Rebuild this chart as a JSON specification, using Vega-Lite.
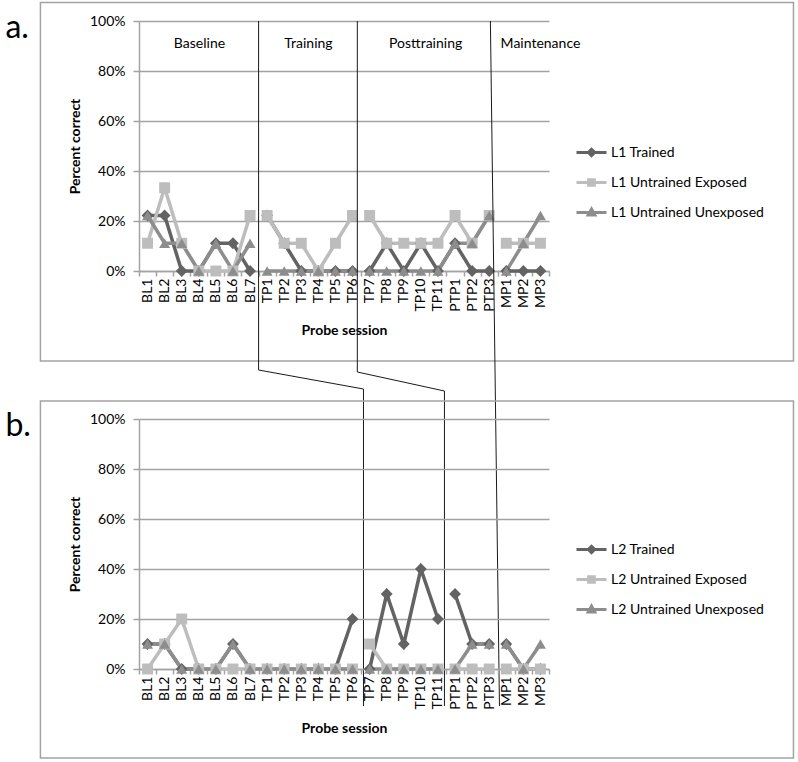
{
  "$schema": "https://vega.github.io/schema/vega-lite/v6.json",
  "background": "white",
  "padding": {"left": 5, "top": 1, "right": 3, "bottom": 3},
  "bounds": "flush",
  "spacing": 148,
  "resolve": {"scale": {"color": "independent", "shape": "independent"}},
  "config": {
    "font": "Lato",
    "view": {"stroke": null},
    "axis": {"labelFont": "Lato", "labelFontSize": 14, "labelColor": "#000", "titleFont": "Lato", "titleFontSize": 14, "titleFontWeight": "bold", "titleColor": "#000", "domainColor": "#a3a3a3", "tickColor": "#a3a3a3", "gridColor": "#a3a3a3", "domainWidth": 1.5, "tickWidth": 1.5, "gridWidth": 1.5},
    "legend": {"labelFont": "Lato", "labelFontSize": 14, "labelColor": "#000"},
    "text": {"font": "Lato"}
  },
  "vconcat": [
    {
      "width": 410,
      "height": 250,
      "resolve": {"scale": {"x": "independent", "y": "independent"}},
      "layer": [
        {
          "data": {"values": [{"u1": -5.77, "u2": 38.31, "v1": 1.074, "v2": -0.36}]},
          "mark": {"type": "rect", "filled": false, "stroke": "#a3a3a3", "strokeWidth": 1.5, "clip": false},
          "encoding": {
            "x": {"field": "u1", "type": "quantitative", "scale": {"domain": [0, 24], "nice": false, "zero": false}, "axis": null},
            "x2": {"field": "u2"},
            "y": {"field": "v1", "type": "quantitative", "scale": {"domain": [0, 1], "nice": false, "zero": false}, "axis": null},
            "y2": {"field": "v2"}
          }
        },
        {
          "data": {"values": [
            {"s":"BL1","g":"L1 Trained","p":"Baseline","v":0.222},
            {"s":"BL2","g":"L1 Trained","p":"Baseline","v":0.222},
            {"s":"BL3","g":"L1 Trained","p":"Baseline","v":0},
            {"s":"BL4","g":"L1 Trained","p":"Baseline","v":0},
            {"s":"BL5","g":"L1 Trained","p":"Baseline","v":0.111},
            {"s":"BL6","g":"L1 Trained","p":"Baseline","v":0.111},
            {"s":"BL7","g":"L1 Trained","p":"Baseline","v":0},
            {"s":"TP1","g":"L1 Trained","p":"Training","v":0.222},
            {"s":"TP2","g":"L1 Trained","p":"Training","v":0.111},
            {"s":"TP3","g":"L1 Trained","p":"Training","v":0},
            {"s":"TP4","g":"L1 Trained","p":"Training","v":0},
            {"s":"TP5","g":"L1 Trained","p":"Training","v":0},
            {"s":"TP6","g":"L1 Trained","p":"Training","v":0},
            {"s":"TP7","g":"L1 Trained","p":"Posttraining","v":0},
            {"s":"TP8","g":"L1 Trained","p":"Posttraining","v":0.111},
            {"s":"TP9","g":"L1 Trained","p":"Posttraining","v":0},
            {"s":"TP10","g":"L1 Trained","p":"Posttraining","v":0.111},
            {"s":"TP11","g":"L1 Trained","p":"Posttraining","v":0},
            {"s":"PTP1","g":"L1 Trained","p":"Posttraining","v":0.111},
            {"s":"PTP2","g":"L1 Trained","p":"Posttraining","v":0},
            {"s":"PTP3","g":"L1 Trained","p":"Posttraining","v":0},
            {"s":"MP1","g":"L1 Trained","p":"Maintenance","v":0},
            {"s":"MP2","g":"L1 Trained","p":"Maintenance","v":0},
            {"s":"MP3","g":"L1 Trained","p":"Maintenance","v":0},
            {"s":"BL1","g":"L1 Untrained Exposed","p":"Baseline","v":0.111},
            {"s":"BL2","g":"L1 Untrained Exposed","p":"Baseline","v":0.333},
            {"s":"BL3","g":"L1 Untrained Exposed","p":"Baseline","v":0.111},
            {"s":"BL4","g":"L1 Untrained Exposed","p":"Baseline","v":0},
            {"s":"BL5","g":"L1 Untrained Exposed","p":"Baseline","v":0},
            {"s":"BL6","g":"L1 Untrained Exposed","p":"Baseline","v":0},
            {"s":"BL7","g":"L1 Untrained Exposed","p":"Baseline","v":0.222},
            {"s":"TP1","g":"L1 Untrained Exposed","p":"Training","v":0.222},
            {"s":"TP2","g":"L1 Untrained Exposed","p":"Training","v":0.111},
            {"s":"TP3","g":"L1 Untrained Exposed","p":"Training","v":0.111},
            {"s":"TP4","g":"L1 Untrained Exposed","p":"Training","v":0},
            {"s":"TP5","g":"L1 Untrained Exposed","p":"Training","v":0.111},
            {"s":"TP6","g":"L1 Untrained Exposed","p":"Training","v":0.222},
            {"s":"TP7","g":"L1 Untrained Exposed","p":"Posttraining","v":0.222},
            {"s":"TP8","g":"L1 Untrained Exposed","p":"Posttraining","v":0.111},
            {"s":"TP9","g":"L1 Untrained Exposed","p":"Posttraining","v":0.111},
            {"s":"TP10","g":"L1 Untrained Exposed","p":"Posttraining","v":0.111},
            {"s":"TP11","g":"L1 Untrained Exposed","p":"Posttraining","v":0.111},
            {"s":"PTP1","g":"L1 Untrained Exposed","p":"Posttraining","v":0.222},
            {"s":"PTP2","g":"L1 Untrained Exposed","p":"Posttraining","v":0.111},
            {"s":"PTP3","g":"L1 Untrained Exposed","p":"Posttraining","v":0.222},
            {"s":"MP1","g":"L1 Untrained Exposed","p":"Maintenance","v":0.111},
            {"s":"MP2","g":"L1 Untrained Exposed","p":"Maintenance","v":0.111},
            {"s":"MP3","g":"L1 Untrained Exposed","p":"Maintenance","v":0.111},
            {"s":"BL1","g":"L1 Untrained Unexposed","p":"Baseline","v":0.222},
            {"s":"BL2","g":"L1 Untrained Unexposed","p":"Baseline","v":0.111},
            {"s":"BL3","g":"L1 Untrained Unexposed","p":"Baseline","v":0.111},
            {"s":"BL4","g":"L1 Untrained Unexposed","p":"Baseline","v":0},
            {"s":"BL5","g":"L1 Untrained Unexposed","p":"Baseline","v":0.111},
            {"s":"BL6","g":"L1 Untrained Unexposed","p":"Baseline","v":0},
            {"s":"BL7","g":"L1 Untrained Unexposed","p":"Baseline","v":0.111},
            {"s":"TP1","g":"L1 Untrained Unexposed","p":"Training","v":0},
            {"s":"TP2","g":"L1 Untrained Unexposed","p":"Training","v":0},
            {"s":"TP3","g":"L1 Untrained Unexposed","p":"Training","v":0},
            {"s":"TP4","g":"L1 Untrained Unexposed","p":"Training","v":0},
            {"s":"TP5","g":"L1 Untrained Unexposed","p":"Training","v":0},
            {"s":"TP6","g":"L1 Untrained Unexposed","p":"Training","v":0},
            {"s":"TP7","g":"L1 Untrained Unexposed","p":"Posttraining","v":0},
            {"s":"TP8","g":"L1 Untrained Unexposed","p":"Posttraining","v":0},
            {"s":"TP9","g":"L1 Untrained Unexposed","p":"Posttraining","v":0},
            {"s":"TP10","g":"L1 Untrained Unexposed","p":"Posttraining","v":0},
            {"s":"TP11","g":"L1 Untrained Unexposed","p":"Posttraining","v":0},
            {"s":"PTP1","g":"L1 Untrained Unexposed","p":"Posttraining","v":0.111},
            {"s":"PTP2","g":"L1 Untrained Unexposed","p":"Posttraining","v":0.111},
            {"s":"PTP3","g":"L1 Untrained Unexposed","p":"Posttraining","v":0.222},
            {"s":"MP1","g":"L1 Untrained Unexposed","p":"Maintenance","v":0},
            {"s":"MP2","g":"L1 Untrained Unexposed","p":"Maintenance","v":0.111},
            {"s":"MP3","g":"L1 Untrained Unexposed","p":"Maintenance","v":0.222}
          ]},
          "encoding": {
            "x": {"field": "s", "type": "nominal",
              "scale": {"type": "band", "domain": ["BL1","BL2","BL3","BL4","BL5","BL6","BL7","TP1","TP2","TP3","TP4","TP5","TP6","TP7","TP8","TP9","TP10","TP11","PTP1","PTP2","PTP3","MP1","MP2","MP3"], "paddingInner": 0, "paddingOuter": 0},
              "axis": {"title": "Probe session", "labelAngle": -90, "tickBand": "extent", "tickSize": 5, "labelPadding": 2, "titlePadding": 12, "grid": false}},
            "y": {"field": "v", "type": "quantitative", "scale": {"domain": [0, 1], "nice": false},
              "axis": {"title": "Percent correct", "format": ".0%", "values": [0, 0.2, 0.4, 0.6, 0.8, 1], "grid": true, "tickSize": 6, "labelPadding": 8, "titlePadding": 7}},
            "color": {"field": "g", "type": "nominal",
              "scale": {"domain": ["L1 Trained", "L1 Untrained Exposed", "L1 Untrained Unexposed"], "range": ["#636363", "#bdbdbd", "#8d8d8d"]},
              "legend": {"title": null, "orient": "none", "legendX": 436, "legendY": 115, "rowPadding": 4, "symbolSize": 900, "symbolStrokeWidth": 3, "labelOffset": 3}}
          },
          "layer": [
            {"mark": {"type": "line", "strokeWidth": 3.5}, "encoding": {"detail": {"field": "p"}}},
            {"transform": [{"filter": "datum.g == 'L1 Trained'"}], "mark": {"type": "point", "shape": "diamond", "filled": true, "opacity": 1, "size": 140}},
            {"transform": [{"filter": "datum.g == 'L1 Untrained Exposed'"}], "mark": {"type": "point", "shape": "square", "filled": true, "opacity": 1, "size": 120}},
            {"transform": [{"filter": "datum.g == 'L1 Untrained Unexposed'"}], "mark": {"type": "point", "shape": "triangle-up", "filled": true, "opacity": 1, "size": 120}},
            {
              "data": {"values": [
                {"s": "BL1", "g": "L1 Trained", "v": -1},
                {"s": "BL1", "g": "L1 Untrained Exposed", "v": -1},
                {"s": "BL1", "g": "L1 Untrained Unexposed", "v": -1}
              ]},
              "mark": {"type": "point", "filled": false, "strokeWidth": 3, "opacity": 1, "clip": true},
              "encoding": {
                "shape": {"field": "g", "type": "nominal",
                  "scale": {"domain": ["L1 Trained", "L1 Untrained Exposed", "L1 Untrained Unexposed"],
                    "range": ["M-1,0H1M0,-0.21L0.21,0L0,0.21L-0.21,0ZM0,-0.08L0.08,0L0,0.08L-0.08,0Z", "M-1,0H1M-0.19,-0.19H0.19V0.19H-0.19ZM-0.08,-0.08H0.08V0.08H-0.08Z", "M-1,0H1M0,-0.23L0.22,0.17L-0.22,0.17ZM0,-0.07L0.07,0.05L-0.07,0.05Z"]},
                  "legend": {"title": null, "orient": "none", "legendX": 436, "legendY": 115, "rowPadding": 4, "symbolSize": 900, "symbolStrokeWidth": 3, "labelOffset": 3}}
              }
            }
          ]
        },
        {
          "data": {"values": [
            {"t": "Baseline", "u": 3.54, "v": 0.908},
            {"t": "Training", "u": 9.92, "v": 0.908},
            {"t": "Posttraining", "u": 16.78, "v": 0.908},
            {"t": "Maintenance", "u": 23.5, "v": 0.908}
          ]},
          "mark": {"type": "text", "fontSize": 14, "color": "#000", "align": "center", "baseline": "middle", "clip": false},
          "encoding": {
            "x": {"field": "u", "type": "quantitative", "scale": {"domain": [0, 24], "nice": false, "zero": false}, "axis": null},
            "y": {"field": "v", "type": "quantitative", "scale": {"domain": [0, 1], "nice": false, "zero": false}, "axis": null},
            "text": {"field": "t"}
          }
        },
        {
          "data": {"values": [{"t": "a.", "u": -7.82, "v": 0.932}]},
          "mark": {"type": "text", "fontSize": 32, "color": "#000", "align": "left", "baseline": "alphabetic", "clip": false},
          "encoding": {
            "x": {"field": "u", "type": "quantitative", "scale": {"domain": [0, 24], "nice": false, "zero": false}, "axis": null},
            "y": {"field": "v", "type": "quantitative", "scale": {"domain": [0, 1], "nice": false, "zero": false}, "axis": null},
            "text": {"field": "t"}
          }
        },
        {
          "data": {"values": [
            {"id": 1, "k": 0, "u": 7.0, "v": 1.0},
            {"id": 1, "k": 1, "u": 7.0, "v": -0.396},
            {"id": 1, "k": 2, "u": 13.14, "v": -0.472},
            {"id": 1, "k": 3, "u": 13.14, "v": -1.74},
            {"id": 2, "k": 0, "u": 12.78, "v": 1.0},
            {"id": 2, "k": 1, "u": 12.78, "v": -0.404},
            {"id": 2, "k": 2, "u": 17.88, "v": -0.48},
            {"id": 2, "k": 3, "u": 17.88, "v": -1.74},
            {"id": 3, "k": 0, "u": 20.57, "v": 1.0},
            {"id": 3, "k": 1, "u": 21.1, "v": -1.74}
          ]},
          "mark": {"type": "line", "color": "#1a1a1a", "strokeWidth": 1, "clip": false},
          "encoding": {
            "x": {"field": "u", "type": "quantitative", "scale": {"domain": [0, 24], "nice": false, "zero": false}, "axis": null},
            "y": {"field": "v", "type": "quantitative", "scale": {"domain": [0, 1], "nice": false, "zero": false}, "axis": null},
            "detail": {"field": "id"},
            "order": {"field": "k"}
          }
        }
      ]
    },
    {
      "width": 410,
      "height": 250,
      "resolve": {"scale": {"x": "independent", "y": "independent"}},
      "layer": [
        {
          "data": {"values": [{"u1": -5.77, "u2": 38.31, "v1": 1.072, "v2": -0.356}]},
          "mark": {"type": "rect", "filled": false, "stroke": "#a3a3a3", "strokeWidth": 1.5, "clip": false},
          "encoding": {
            "x": {"field": "u1", "type": "quantitative", "scale": {"domain": [0, 24], "nice": false, "zero": false}, "axis": null},
            "x2": {"field": "u2"},
            "y": {"field": "v1", "type": "quantitative", "scale": {"domain": [0, 1], "nice": false, "zero": false}, "axis": null},
            "y2": {"field": "v2"}
          }
        },
        {
          "data": {"values": [
            {"s":"BL1","g":"L2 Trained","p":"Baseline","v":0.1},
            {"s":"BL2","g":"L2 Trained","p":"Baseline","v":0.1},
            {"s":"BL3","g":"L2 Trained","p":"Baseline","v":0},
            {"s":"BL4","g":"L2 Trained","p":"Baseline","v":0},
            {"s":"BL5","g":"L2 Trained","p":"Baseline","v":0},
            {"s":"BL6","g":"L2 Trained","p":"Baseline","v":0.1},
            {"s":"BL7","g":"L2 Trained","p":"Baseline","v":0},
            {"s":"TP1","g":"L2 Trained","p":"Baseline","v":0},
            {"s":"TP2","g":"L2 Trained","p":"Baseline","v":0},
            {"s":"TP3","g":"L2 Trained","p":"Baseline","v":0},
            {"s":"TP4","g":"L2 Trained","p":"Baseline","v":0},
            {"s":"TP5","g":"L2 Trained","p":"Baseline","v":0},
            {"s":"TP6","g":"L2 Trained","p":"Baseline","v":0.2},
            {"s":"TP7","g":"L2 Trained","p":"Training","v":0},
            {"s":"TP8","g":"L2 Trained","p":"Training","v":0.3},
            {"s":"TP9","g":"L2 Trained","p":"Training","v":0.1},
            {"s":"TP10","g":"L2 Trained","p":"Training","v":0.4},
            {"s":"TP11","g":"L2 Trained","p":"Training","v":0.2},
            {"s":"PTP1","g":"L2 Trained","p":"Posttraining","v":0.3},
            {"s":"PTP2","g":"L2 Trained","p":"Posttraining","v":0.1},
            {"s":"PTP3","g":"L2 Trained","p":"Posttraining","v":0.1},
            {"s":"MP1","g":"L2 Trained","p":"Maintenance","v":0.1},
            {"s":"MP2","g":"L2 Trained","p":"Maintenance","v":0},
            {"s":"MP3","g":"L2 Trained","p":"Maintenance","v":0},
            {"s":"BL1","g":"L2 Untrained Exposed","p":"Baseline","v":0},
            {"s":"BL2","g":"L2 Untrained Exposed","p":"Baseline","v":0.1},
            {"s":"BL3","g":"L2 Untrained Exposed","p":"Baseline","v":0.2},
            {"s":"BL4","g":"L2 Untrained Exposed","p":"Baseline","v":0},
            {"s":"BL5","g":"L2 Untrained Exposed","p":"Baseline","v":0},
            {"s":"BL6","g":"L2 Untrained Exposed","p":"Baseline","v":0},
            {"s":"BL7","g":"L2 Untrained Exposed","p":"Baseline","v":0},
            {"s":"TP1","g":"L2 Untrained Exposed","p":"Baseline","v":0},
            {"s":"TP2","g":"L2 Untrained Exposed","p":"Baseline","v":0},
            {"s":"TP3","g":"L2 Untrained Exposed","p":"Baseline","v":0},
            {"s":"TP4","g":"L2 Untrained Exposed","p":"Baseline","v":0},
            {"s":"TP5","g":"L2 Untrained Exposed","p":"Baseline","v":0},
            {"s":"TP6","g":"L2 Untrained Exposed","p":"Baseline","v":0},
            {"s":"TP7","g":"L2 Untrained Exposed","p":"Training","v":0.1},
            {"s":"TP8","g":"L2 Untrained Exposed","p":"Training","v":0},
            {"s":"TP9","g":"L2 Untrained Exposed","p":"Training","v":0},
            {"s":"TP10","g":"L2 Untrained Exposed","p":"Training","v":0},
            {"s":"TP11","g":"L2 Untrained Exposed","p":"Training","v":0},
            {"s":"PTP1","g":"L2 Untrained Exposed","p":"Posttraining","v":0},
            {"s":"PTP2","g":"L2 Untrained Exposed","p":"Posttraining","v":0},
            {"s":"PTP3","g":"L2 Untrained Exposed","p":"Posttraining","v":0},
            {"s":"MP1","g":"L2 Untrained Exposed","p":"Maintenance","v":0},
            {"s":"MP2","g":"L2 Untrained Exposed","p":"Maintenance","v":0},
            {"s":"MP3","g":"L2 Untrained Exposed","p":"Maintenance","v":0},
            {"s":"BL1","g":"L2 Untrained Unexposed","p":"Baseline","v":0.1},
            {"s":"BL2","g":"L2 Untrained Unexposed","p":"Baseline","v":0.1},
            {"s":"BL3","g":"L2 Untrained Unexposed","p":"Baseline","v":0},
            {"s":"BL4","g":"L2 Untrained Unexposed","p":"Baseline","v":0},
            {"s":"BL5","g":"L2 Untrained Unexposed","p":"Baseline","v":0},
            {"s":"BL6","g":"L2 Untrained Unexposed","p":"Baseline","v":0.1},
            {"s":"BL7","g":"L2 Untrained Unexposed","p":"Baseline","v":0},
            {"s":"TP1","g":"L2 Untrained Unexposed","p":"Baseline","v":0},
            {"s":"TP2","g":"L2 Untrained Unexposed","p":"Baseline","v":0},
            {"s":"TP3","g":"L2 Untrained Unexposed","p":"Baseline","v":0},
            {"s":"TP4","g":"L2 Untrained Unexposed","p":"Baseline","v":0},
            {"s":"TP5","g":"L2 Untrained Unexposed","p":"Baseline","v":0},
            {"s":"TP6","g":"L2 Untrained Unexposed","p":"Baseline","v":0},
            {"s":"TP7","g":"L2 Untrained Unexposed","p":"Training","v":0},
            {"s":"TP8","g":"L2 Untrained Unexposed","p":"Training","v":0},
            {"s":"TP9","g":"L2 Untrained Unexposed","p":"Training","v":0},
            {"s":"TP10","g":"L2 Untrained Unexposed","p":"Training","v":0},
            {"s":"TP11","g":"L2 Untrained Unexposed","p":"Training","v":0},
            {"s":"PTP1","g":"L2 Untrained Unexposed","p":"Posttraining","v":0},
            {"s":"PTP2","g":"L2 Untrained Unexposed","p":"Posttraining","v":0.1},
            {"s":"PTP3","g":"L2 Untrained Unexposed","p":"Posttraining","v":0.1},
            {"s":"MP1","g":"L2 Untrained Unexposed","p":"Maintenance","v":0.1},
            {"s":"MP2","g":"L2 Untrained Unexposed","p":"Maintenance","v":0},
            {"s":"MP3","g":"L2 Untrained Unexposed","p":"Maintenance","v":0.1}
          ]},
          "encoding": {
            "x": {"field": "s", "type": "nominal",
              "scale": {"type": "band", "domain": ["BL1","BL2","BL3","BL4","BL5","BL6","BL7","TP1","TP2","TP3","TP4","TP5","TP6","TP7","TP8","TP9","TP10","TP11","PTP1","PTP2","PTP3","MP1","MP2","MP3"], "paddingInner": 0, "paddingOuter": 0},
              "axis": {"title": "Probe session", "labelAngle": -90, "tickBand": "extent", "tickSize": 5, "labelPadding": 2, "titlePadding": 12, "grid": false}},
            "y": {"field": "v", "type": "quantitative", "scale": {"domain": [0, 1], "nice": false},
              "axis": {"title": "Percent correct", "format": ".0%", "values": [0, 0.2, 0.4, 0.6, 0.8, 1], "grid": true, "tickSize": 6, "labelPadding": 8, "titlePadding": 7}},
            "color": {"field": "g", "type": "nominal",
              "scale": {"domain": ["L2 Trained", "L2 Untrained Exposed", "L2 Untrained Unexposed"], "range": ["#636363", "#bdbdbd", "#8d8d8d"]},
              "legend": {"title": null, "orient": "none", "legendX": 436, "legendY": 114, "rowPadding": 4, "symbolSize": 900, "symbolStrokeWidth": 3, "labelOffset": 3}}
          },
          "layer": [
            {"mark": {"type": "line", "strokeWidth": 3.5}, "encoding": {"detail": {"field": "p"}}},
            {"transform": [{"filter": "datum.g == 'L2 Trained'"}], "mark": {"type": "point", "shape": "diamond", "filled": true, "opacity": 1, "size": 140}},
            {"transform": [{"filter": "datum.g == 'L2 Untrained Exposed'"}], "mark": {"type": "point", "shape": "square", "filled": true, "opacity": 1, "size": 120}},
            {"transform": [{"filter": "datum.g == 'L2 Untrained Unexposed'"}], "mark": {"type": "point", "shape": "triangle-up", "filled": true, "opacity": 1, "size": 120}},
            {
              "data": {"values": [
                {"s": "BL1", "g": "L2 Trained", "v": -1},
                {"s": "BL1", "g": "L2 Untrained Exposed", "v": -1},
                {"s": "BL1", "g": "L2 Untrained Unexposed", "v": -1}
              ]},
              "mark": {"type": "point", "filled": false, "strokeWidth": 3, "opacity": 1, "clip": true},
              "encoding": {
                "shape": {"field": "g", "type": "nominal",
                  "scale": {"domain": ["L2 Trained", "L2 Untrained Exposed", "L2 Untrained Unexposed"],
                    "range": ["M-1,0H1M0,-0.21L0.21,0L0,0.21L-0.21,0ZM0,-0.08L0.08,0L0,0.08L-0.08,0Z", "M-1,0H1M-0.19,-0.19H0.19V0.19H-0.19ZM-0.08,-0.08H0.08V0.08H-0.08Z", "M-1,0H1M0,-0.23L0.22,0.17L-0.22,0.17ZM0,-0.07L0.07,0.05L-0.07,0.05Z"]},
                  "legend": {"title": null, "orient": "none", "legendX": 436, "legendY": 114, "rowPadding": 4, "symbolSize": 900, "symbolStrokeWidth": 3, "labelOffset": 3}}
              }
            }
          ]
        },
        {
          "data": {"values": [{"t": "b.", "u": -7.82, "v": 0.932}]},
          "mark": {"type": "text", "fontSize": 32, "color": "#000", "align": "left", "baseline": "alphabetic", "clip": false},
          "encoding": {
            "x": {"field": "u", "type": "quantitative", "scale": {"domain": [0, 24], "nice": false, "zero": false}, "axis": null},
            "y": {"field": "v", "type": "quantitative", "scale": {"domain": [0, 1], "nice": false, "zero": false}, "axis": null},
            "text": {"field": "t"}
          }
        }
      ]
    }
  ]
}
